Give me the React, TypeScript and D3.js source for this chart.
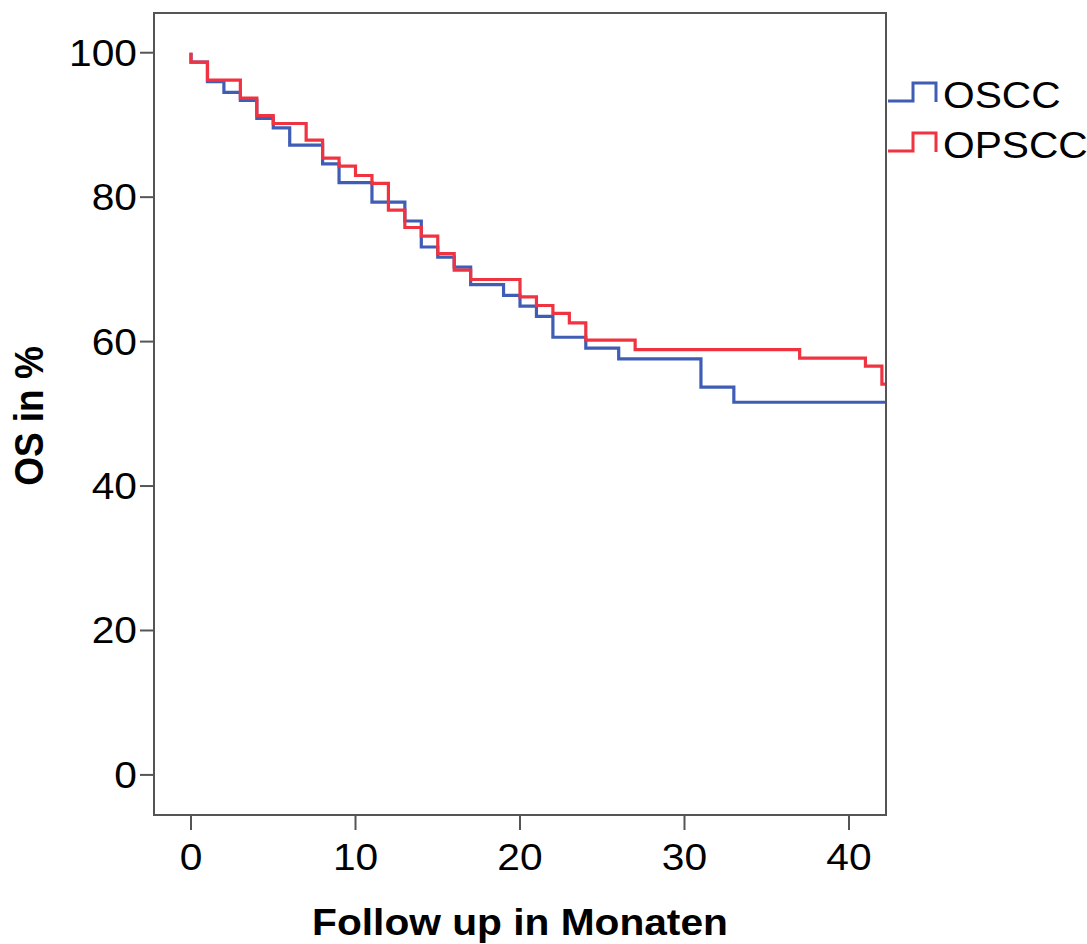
import React from "react";
import * as d3 from "d3";

// Kaplan-Meier steps (time in months, survival % after the step)
const osccTimes = [0, 1, 2, 3, 4, 5, 6, 8, 9, 11, 13, 14, 15, 16, 17, 19, 20, 21, 22, 24, 26, 31, 33];
const osccSurv = [98.7, 96.0, 94.5, 93.4, 90.9, 89.6, 87.2, 84.6, 82.0, 79.3, 76.7, 73.1, 71.7, 70.3, 67.9, 66.4, 64.9, 63.5, 60.6, 59.1, 57.6, 53.7, 51.6];

const opsccTimes = [0, 1, 3, 4, 5, 7, 8, 9, 10, 11, 12, 13, 14, 15, 16, 17, 20, 21, 22, 23, 24, 27, 37, 41, 42];
const opsccSurv = [98.7, 96.2, 93.7, 91.3, 90.2, 87.9, 85.4, 84.3, 83.0, 81.9, 78.2, 75.8, 74.6, 72.2, 69.9, 68.6, 66.2, 65.0, 63.9, 62.6, 60.2, 58.9, 57.7, 56.6, 54.1];

const endTime = 42.25;
const xTicks = [0, 10, 20, 30, 40];
const yTicks = [0, 20, 40, 60, 80, 100];
const seriesNames = ["OSCC", "OPSCC"];
const seriesColors = ["#3f5db5", "#ef3340"];
const xTitle = "Follow up in Monaten";
const yTitle = "OS in %";

const W = 1087;
const H = 944;
const left = 154, right = 886, top = 13, bottom = 815;
const FONT = "'Liberation Sans', Arial, sans-serif";
const SX = 1.1;

function buildPoints(times: number[], surv: number[]): [number, number][] {
  const pts: [number, number][] = [[0, 100]];
  times.forEach((t, i) => pts.push([t, surv[i]]));
  pts.push([endTime, surv[surv.length - 1]]);
  return pts;
}

export default function App() {
  const x = d3.scaleLinear().domain([-2.25, 42.25]).range([left, right]);
  const y = d3.scaleLinear().domain([-5.55, 105.5]).range([bottom, top]);
  const line = d3
    .line<[number, number]>()
    .x((d) => x(d[0]))
    .y((d) => y(d[1]))
    .curve(d3.curveStepAfter);

  const series = [buildPoints(osccTimes, osccSurv), buildPoints(opsccTimes, opsccSurv)];
  const axisColor = "#555";

  return (
    <div style={{ position: "absolute", left: 0, top: 0 }}>
      <svg width={W} height={H} style={{ display: "block", background: "#fff" }}>
        <rect x={0} y={0} width={W} height={H} fill="#fff" />
        {/* curves */}
        {series.map((pts, i) => (
          <path key={i} d={line(pts) || ""} fill="none" stroke={seriesColors[i]} strokeWidth={3.2} />
        ))}
        {/* frame */}
        <rect x={left} y={top} width={right - left} height={bottom - top} fill="none" stroke={axisColor} strokeWidth={2} />
        {/* y ticks */}
        {yTicks.map((v) => (
          <g key={"y" + v}>
            <line x1={left - 14} x2={left} y1={y(v)} y2={y(v)} stroke={axisColor} strokeWidth={2} />
            <text
              transform={`translate(${left - 17},${y(v) + 13}) scale(${SX},1)`}
              textAnchor="end"
              fontFamily={FONT}
              fontSize={37}
              fill="#000"
            >
              {v}
            </text>
          </g>
        ))}
        {/* x ticks */}
        {xTicks.map((v) => (
          <g key={"x" + v}>
            <line x1={x(v)} x2={x(v)} y1={bottom} y2={bottom + 15} stroke={axisColor} strokeWidth={2} />
            <text
              transform={`translate(${x(v)},${870}) scale(${SX},1)`}
              textAnchor="middle"
              fontFamily={FONT}
              fontSize={37}
              fill="#000"
            >
              {v}
            </text>
          </g>
        ))}
        {/* axis titles */}
        <text
          transform={`translate(${(left + right) / 2},${935}) scale(${SX},1)`}
          textAnchor="middle"
          fontFamily={FONT}
          fontWeight="bold"
          fontSize={37}
          fill="#000"
        >
          {xTitle}
        </text>
        <text
          transform={`translate(${43},${(top + bottom) / 2 + 2}) scale(${SX},1) rotate(-90)`}
          textAnchor="middle"
          fontFamily={FONT}
          fontWeight="bold"
          fontSize={37}
          fill="#000"
        >
          {yTitle}
        </text>
        {/* legend */}
        {seriesNames.map((name, i) => {
          const base = 101 + i * 50;
          return (
            <g key={name}>
              <path
                d={`M888,${base} H913 V${base - 18} H936 V${base + 1}`}
                fill="none"
                stroke={seriesColors[i]}
                strokeWidth={3}
              />
              <text
                transform={`translate(943,${base + 7}) scale(${SX},1)`}
                fontFamily={FONT}
                fontSize={37}
                fill="#000"
              >
                {name}
              </text>
            </g>
          );
        })}
      </svg>
    </div>
  );
}
